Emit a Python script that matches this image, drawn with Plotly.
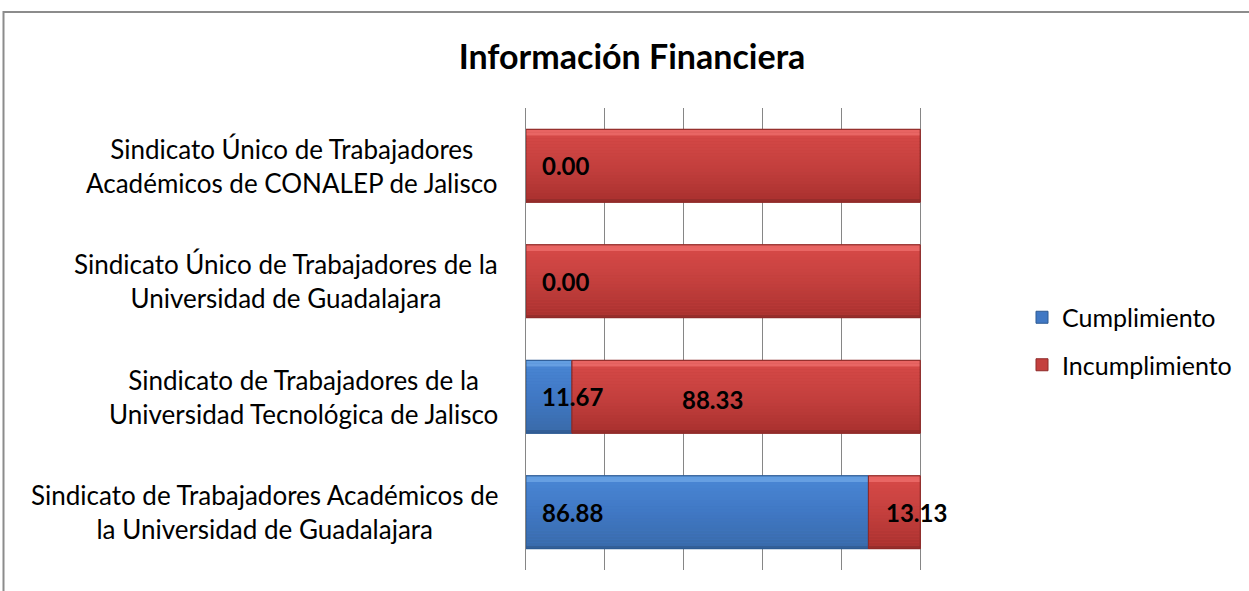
import plotly.graph_objects as go

categories = [
    "Sindicato de Trabajadores Académicos de<br>la Universidad de Guadalajara",
    "Sindicato de Trabajadores de la<br>Universidad Tecnológica de Jalisco",
    "Sindicato Único de Trabajadores de la<br>Universidad de Guadalajara",
    "Sindicato Único de Trabajadores<br>Académicos de CONALEP de Jalisco",
]
cumplimiento = [86.88, 11.67, 0.00, 0.00]
incumplimiento = [13.13, 88.33, 100.00, 100.00]
show_incumpl_label = [True, True, False, False]
incumpl_label_shift = [22, -34, 0, 0]

FONT = "Lato"
BAR_W = 0.63

# gradient stops (bottom -> top): style only
BLUE_STOPS = [(0.0, (47, 88, 140)), (0.06, (58, 108, 172)), (0.5, (64, 120, 196)),
              (0.9, (72, 132, 210)), (0.95, (112, 168, 232)), (1.0, (90, 150, 220))]
RED_STOPS = [(0.0, (140, 42, 40)), (0.06, (172, 50, 48)), (0.5, (196, 64, 62)),
             (0.9, (212, 72, 70)), (0.95, (240, 112, 110)), (1.0, (226, 92, 90))]


def grad_color(stops, t):
    for (t0, c0), (t1, c1) in zip(stops[:-1], stops[1:]):
        if t0 <= t <= t1:
            f = 0 if t1 == t0 else (t - t0) / (t1 - t0)
            c = [round(a + (b - a) * f) for a, b in zip(c0, c1)]
            return f"rgb({c[0]},{c[1]},{c[2]})"
    c = stops[-1][1]
    return f"rgb({c[0]},{c[1]},{c[2]})"


fig = go.Figure()
series = [
    ("Cumplimiento", cumplimiento, [0] * len(categories), BLUE_STOPS, "#2C5A92"),
    ("Incumplimiento", incumplimiento, cumplimiento, RED_STOPS, "#8E2A28"),
]
N_BANDS = 24
for name, vals, base, stops, edge in series:
    fig.add_trace(go.Bar(
        y=categories, x=vals, base=base, orientation="h", name=name,
        legendgroup=name,
        width=BAR_W, offset=-BAR_W / 2,
        marker=dict(color=grad_color(stops, 0.5), line=dict(color=edge, width=1)),
        hoverinfo="skip",
    ))
    h = BAR_W / N_BANDS
    for k in range(N_BANDS):
        t = (k + 0.5) / N_BANDS
        fig.add_trace(go.Bar(
            y=categories, x=vals, base=base, orientation="h", showlegend=False,
            legendgroup=name,
            width=h * 1.02, offset=-BAR_W / 2 + k * h,
            marker=dict(color=grad_color(stops, t), line=dict(width=0)),
            hoverinfo="skip",
        ))
    fig.add_trace(go.Bar(
        y=categories, x=vals, base=base, orientation="h", showlegend=False,
        legendgroup=name,
        width=BAR_W, offset=-BAR_W / 2,
        marker=dict(color="rgba(0,0,0,0)", line=dict(color=edge, width=1)),
        hoverinfo="skip",
    ))

annotations = []
for i, cat in enumerate(categories):
    annotations.append(dict(
        x=-0.055, xref="paper", y=cat, yref="y", text=cat, showarrow=False,
        xanchor="right", yanchor="middle", align="center",
        font=dict(family=FONT, size=26, color="#000"),
    ))
    annotations.append(dict(
        x=0, y=cat, xref="x", yref="y", text=f"{cumplimiento[i]:.2f}",
        showarrow=False, xanchor="left", xshift=14,
        font=dict(family=FONT, size=24, color="#000", weight="bold"),
    ))
    if show_incumpl_label[i]:
        annotations.append(dict(
            x=cumplimiento[i] + incumplimiento[i] / 2, y=cat, xref="x", yref="y",
            text=f"{incumplimiento[i]:.2f}",
            showarrow=False, xanchor="center", xshift=incumpl_label_shift[i],
            yshift=-3 if i == 1 else 0,
            font=dict(family=FONT, size=24, color="#000", weight="bold"),
        ))

fig.update_layout(
    barmode="overlay",
    width=1249, height=591,
    margin=dict(l=526, r=250, t=108, b=21, autoexpand=False),
    paper_bgcolor="white", plot_bgcolor="white",
    title=dict(text="<b>Información Financiera</b>", x=(457 + 807) / 2 / 1249, xanchor="center",
               y=1 - 57 / 591, yanchor="middle",
               font=dict(family=FONT, size=34, color="#000")),
    xaxis=dict(range=[0, 120], dtick=20, showgrid=True, gridcolor="#868686", gridwidth=1,
               showticklabels=False, zeroline=False, showline=False, fixedrange=True),
    yaxis=dict(showticklabels=False, showline=True, linecolor="#868686", linewidth=1,
               ticks="", showgrid=False, fixedrange=True),
    legend=dict(x=(1022 - 526) / 473, y=(570 - 341) / 462, xanchor="left", yanchor="middle",
                font=dict(family=FONT, size=25, color="#000"),
                traceorder="grouped", tracegroupgap=12, itemwidth=30),
    annotations=annotations,
    shapes=[dict(type="rect", xref="paper", yref="paper",
                 x0=(3.5 - 526) / 473, x1=(1260 - 526) / 473,
                 y0=-0.2, y1=(570 - 12) / 462,
                 line=dict(color="#8C8C8C", width=2), fillcolor="rgba(0,0,0,0)", layer="below")],
)

fig.write_html("out.html", config={"displayModeBar": False},
               post_script="document.body.style.margin='0';")
